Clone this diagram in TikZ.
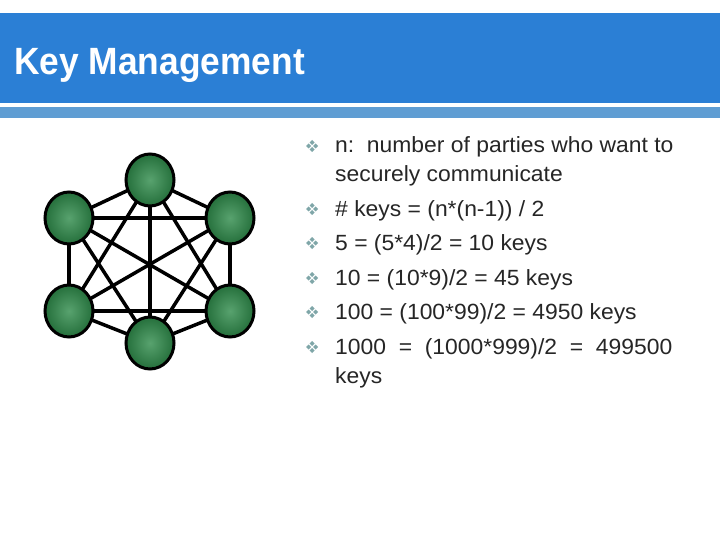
\documentclass[tikz,border=0pt]{standalone}
\usepackage{fontspec}
\setmainfont{Liberation Sans}
\usetikzlibrary{shapes.geometric}
\definecolor{barblue}{HTML}{2B7FD5}
\definecolor{bandblue}{HTML}{5F9DD3}
\definecolor{nodegreen}{HTML}{2E8B4A}
\definecolor{bul}{HTML}{7FA6A8}
\begin{document}
\begin{tikzpicture}[x=1pt,y=-1pt,
  party/.style={ellipse,draw=black,line width=3pt,minimum width=48pt,minimum height=52pt,inner sep=0pt,
    inner color=nodegreen!80!white,outer color=nodegreen!80!black},
  link/.style={line width=3.5pt,black},
  txt/.style={anchor=base west,font=\fontsize{22}{22}\selectfont,text=black!85,inner sep=0pt,xscale=1.04}]
\useasboundingbox (0,0) rectangle (720,540);
\fill[white] (0,0) rectangle (720,540);
\fill[barblue] (0,13) rectangle (720,103);
\fill[bandblue] (0,107) rectangle (720,118);
\node (title) [anchor=base west,inner sep=0pt,text=white,font=\bfseries\fontsize{38}{38}\selectfont,xscale=0.93] at (14,75) {Key Management};
\coordinate (a) at (150,180);
\coordinate (b) at (69,218);
\coordinate (c) at (230,218);
\coordinate (d) at (69,311);
\coordinate (e) at (230,311);
\coordinate (f) at (150,343);
\foreach \u/\v in {a/b,a/c,a/d,a/e,a/f,b/c,b/d,b/e,b/f,c/d,c/e,c/f,d/e,d/f,e/f}
  \draw[link] (\u) -- (\v);
\foreach \p in {a,b,c,d,e,f} \node[party] (n\p) at (\p) {};
\foreach \y in {145,208,242,277,311,346} {
  \foreach \dx/\dy in {-3.5/0,3.5/0,0/-3.5,0/3.5}
    \fill[bul] (312+\dx,\y+1+\dy) +(0,-2.5) -- +(2.5,0) -- +(0,2.5) -- +(-2.5,0) -- cycle;
}
\node (t1) [txt] at (335,153) {n:\ \ number of parties who want to};
\node (t1b) [txt] at (335,182) {securely communicate};
\node (t2) [txt] at (335,216) {\# keys = (n*(n-1)) / 2};
\node (t3) [txt] at (335,250) {5 = (5*4)/2 = 10 keys};
\node (t4) [txt] at (335,285) {10 = (10*9)/2 = 45 keys};
\node (t5) [txt] at (335,319) {100 = (100*99)/2 = 4950 keys};
\node (t6) [txt] at (335,354) {1000\ \ =\ \ (1000*999)/2\ \ =\ \ 499500};
\node (t6b) [txt] at (335,383) {keys};
\end{tikzpicture}
\end{document}
